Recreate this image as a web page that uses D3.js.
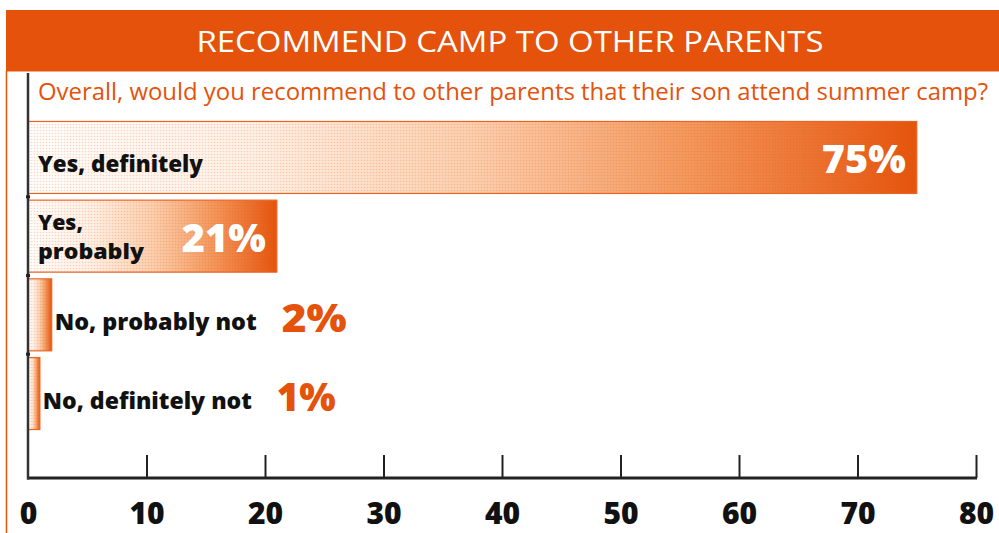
<!DOCTYPE html>
<html>
<head>
<meta charset="utf-8">
<script src="https://cdn.jsdelivr.net/npm/d3@7"></script>
<style>
  html, body { margin: 0; padding: 0; background: #ffffff; }
  svg { display: block; }
</style>
</head>
<body>
<svg id="chart" width="999" height="533"></svg>
<script>
// ---- data ----
const title = "RECOMMEND CAMP TO OTHER PARENTS";
const subtitle = "Overall, would you recommend to other parents that their son attend summer camp?";
const categories = ["Yes, definitely", "Yes, probably", "No, probably not", "No, definitely not"];
const categoryLines = [["Yes, definitely"], ["Yes,", "probably"], ["No, probably not"], ["No, definitely not"]];
const values = [75, 21, 2, 1];
const tickValues = [0, 10, 20, 30, 40, 50, 60, 70, 80];

// ---- layout ----
const W = 999, H = 533;
const ORANGE = "#e4520b";
const FONT = "'Open Sans', 'Noto Sans', 'DejaVu Sans', sans-serif";

const svg = d3.select("#chart");

const x = d3.scaleLinear().domain([0, 80]).range([28, 976]);
const y = d3.scaleBand().domain(categories).range([118, 433]).paddingInner(0.085).paddingOuter(0.044);

const defs = svg.append("defs");
const grad = defs.append("linearGradient").attr("id", "barGrad");
[[0, "#fffdfb"], [0.25, "#fff0e5"], [0.5, "#fccfae"], [0.75, "#f3965a"], [1, "#e5540d"]]
  .forEach(([o, c]) => grad.append("stop").attr("offset", o).attr("stop-color", c));
const pat = defs.append("pattern").attr("id", "dots").attr("width", 3).attr("height", 3)
  .attr("patternUnits", "userSpaceOnUse");
pat.append("circle").attr("cx", 1.5).attr("cy", 1.5).attr("r", 0.8).attr("fill", "#e4520b").attr("opacity", 0.22);

// panel left border
svg.append("line").attr("x1", 6.5).attr("x2", 6.5).attr("y1", 71).attr("y2", H)
  .attr("stroke", ORANGE).attr("stroke-width", 1.5);

// header
svg.append("rect").attr("x", 6).attr("y", 10).attr("width", W - 6).attr("height", 61.5).attr("fill", ORANGE);
svg.append("text").attr("x", 510).attr("y", 52).attr("text-anchor", "middle")
  .attr("fill", "#fff").attr("font-family", FONT).attr("font-size", 30)
  .attr("textLength", 627).attr("lengthAdjust", "spacingAndGlyphs").text(title);

// subtitle
svg.append("text").attr("x", 38).attr("y", 100)
  .attr("fill", ORANGE).attr("font-family", FONT).attr("font-size", 23)
  .attr("textLength", 950).attr("lengthAdjust", "spacingAndGlyphs").text(subtitle);

// bars
const data = categories.map((c, i) => ({ c, v: values[i], lines: categoryLines[i] }));
const bars = svg.append("g").selectAll("g").data(data).join("g");
bars.append("rect")
  .attr("x", x(0)).attr("y", d => y(d.c))
  .attr("width", d => x(d.v) - x(0)).attr("height", y.bandwidth())
  .attr("fill", "url(#barGrad)").attr("stroke", "#ea6524").attr("stroke-width", 1.2);
bars.append("rect")
  .attr("x", x(0)).attr("y", d => y(d.c))
  .attr("width", d => x(d.v) - x(0)).attr("height", y.bandwidth())
  .attr("fill", "url(#dots)");

// category labels
const catWidths = { "Yes, definitely": 165, "Yes,": 45, "probably": 106, "No, probably not": 202, "No, definitely not": 209 };
bars.each(function (d) {
  const g = d3.select(this);
  const inside = d.v >= 10;
  const lx = inside ? x(0) + 10 : x(d.v) + 3;
  const cy = y(d.c) + y.bandwidth() / 2;
  const n = d.lines.length;
  let endX = lx;
  d.lines.forEach((ln, k) => {
    const by = n === 1 ? cy + 15 : cy - 6.5 + k * 29;
    g.append("text").attr("x", lx).attr("y", by)
      .attr("font-family", FONT).attr("font-weight", 800).attr("font-size", n === 1 ? 23 : 21)
      .attr("fill", "#111").attr("textLength", catWidths[ln]).attr("lengthAdjust", "spacingAndGlyphs")
      .text(ln);
    endX = Math.max(endX, lx + catWidths[ln]);
  });
  const vt = g.append("text").attr("font-family", FONT).attr("font-weight", 800).attr("font-size", 38)
    .attr("y", cy + (inside ? 16 : 17)).text(d.v + "%");
  if (inside) {
    vt.attr("x", x(d.v) - 11).attr("text-anchor", "end").attr("fill", "#fff")
      .attr("textLength", 84).attr("lengthAdjust", "spacingAndGlyphs");
  } else {
    vt.attr("x", endX + 25).attr("fill", ORANGE)
      .attr("textLength", d.v >= 2 ? 65 : 59).attr("lengthAdjust", "spacingAndGlyphs");
  }
});

// axes
const axisG = svg.append("g").attr("transform", `translate(0,478)`);
const xAxis = d3.axisBottom(x).tickValues(tickValues).tickSize(0).tickPadding(0).tickFormat(d3.format("d"));
axisG.call(xAxis);
axisG.select(".domain").remove();
axisG.append("line").attr("x1", x(0) - 1).attr("x2", x(80) + 1).attr("y1", 0).attr("y2", 0)
  .attr("stroke", "#222").attr("stroke-width", 3);
axisG.selectAll(".tick line").remove();
axisG.selectAll(".tick").filter(d => d > 0).append("line")
  .attr("y1", 0).attr("y2", -23).attr("stroke", "#222").attr("stroke-width", 2);
axisG.selectAll(".tick text")
  .attr("y", 46).attr("dy", null)
  .attr("font-family", FONT).attr("font-weight", 800).attr("font-size", 30).attr("fill", "#111");

// left axis
svg.append("line").attr("x1", x(0)).attr("x2", x(0)).attr("y1", 73).attr("y2", 479.5)
  .attr("stroke", "#333").attr("stroke-width", 2.5);
// band separator marks on left axis
const seps = categories.slice(1).map(c => y(c) - y.step() * y.paddingInner() / 2);
svg.append("g").selectAll("line").data(seps).join("line")
  .attr("x1", x(0) - 2).attr("x2", x(0) + 2).attr("y1", d => d).attr("y2", d => d)
  .attr("stroke", "#222").attr("stroke-width", 3);
</script>
</body>
</html>
